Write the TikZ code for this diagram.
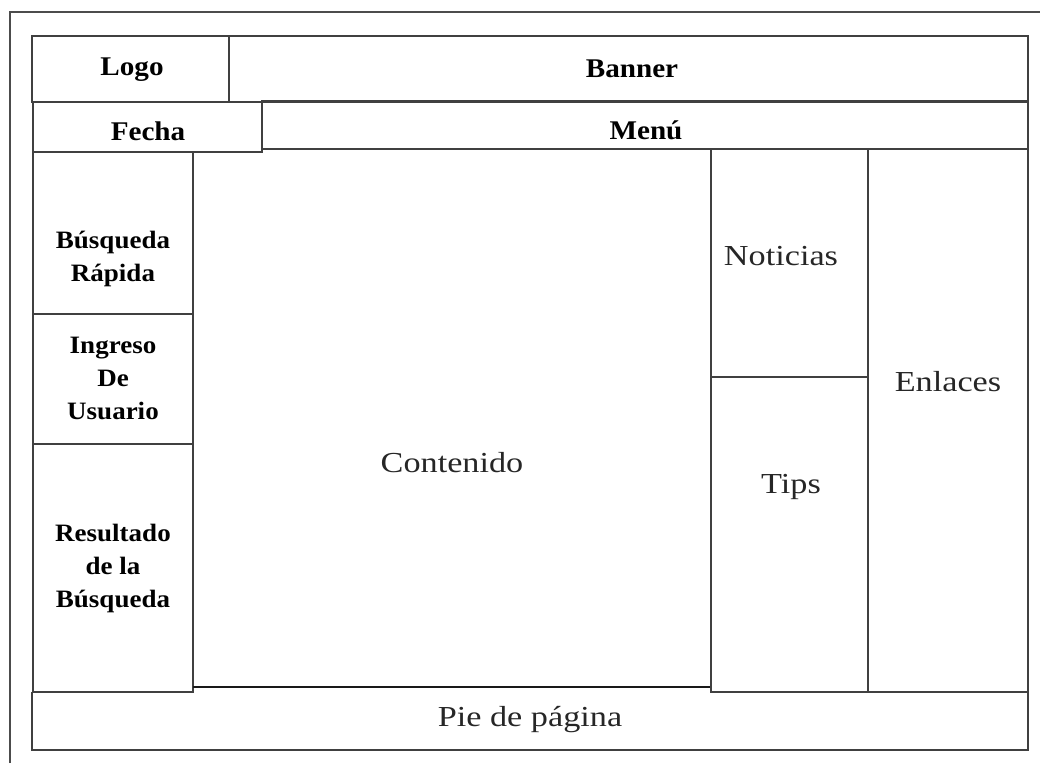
\documentclass[tikz,border=0pt]{standalone}
\usepackage{fontspec}
\setmainfont{Liberation Serif}
\newfontfamily\hdfont[FakeStretch=1.08]{Liberation Serif}
\newfontfamily\rgfont[FakeStretch=1.18]{Liberation Serif}
\begin{document}
\begin{tikzpicture}[x=1pt,y=-1pt,
  frame/.style={draw=black!70, line width=1.2pt},
  box/.style={draw=black!75, line width=1.3pt},
  thick line/.style={draw=black!90, line width=2.6pt},
  hd/.style={inner sep=0pt, align=center, font=\hdfont\bfseries\fontsize{27}{33}\selectfont},
  sd/.style={inner sep=0pt, align=center, font=\hdfont\bfseries\fontsize{25}{33}\selectfont},
  rg/.style={inner sep=0pt, align=center, text=black!85, font=\rgfont\fontsize{29}{34}\selectfont}]
\useasboundingbox (0,0) rectangle (1040,763);
% outer frame
\draw[frame] (10,763) -- (10,12) -- (1040,12);
% header
\draw[box] (32,36) rectangle (229,102);
\draw[box] (229,36) rectangle (1028,102);
\draw[box] (33,102) rectangle (262,152);
\draw[box] (262,101) rectangle (1028,149);
% left column
\draw[box] (33,152) rectangle (193,314);
\draw[box] (33,314) rectangle (193,444);
\draw[box] (33,444) rectangle (193,692);
% content
\draw[box] (193,152) -- (193,692);
\draw[thick line] (193,687) -- (711,687);
% right columns
\draw[box] (711,149) rectangle (868,377);
\draw[box] (711,377) -- (711,692) -- (868,692) -- (868,377);
\draw[box] (868,149) rectangle (1028,692);
% footer
\draw[box] (32,692) -- (32,750) -- (1028,750) -- (1028,692);
\draw[box] (32,692) -- (193,692);
\draw[box] (711,692) -- (1028,692);
% texts
\node[hd] (logo) at (132,70) {Logo};
\node[hd] (banner) at (632,69) {Banner};
\node[hd] (fecha) at (148,131) {Fecha};
\node[hd] (menu) at (646,130) {Menú};
\node[sd] (busq) at (113,259) {Búsqueda\\Rápida};
\node[sd] (ingreso) at (113,378) {Ingreso\\De\\Usuario};
\node[sd] (result) at (113,568) {Resultado\\de la\\Búsqueda};
\node[rg] (cont) at (452,463) {Contenido};
\node[rg] (noti) at (781,256) {Noticias};
\node[rg] (tips) at (791,487) {Tips};
\node[rg] (enl) at (948,382) {Enlaces};
\node[rg] (pie) at (530,720) {Pie de página};
\end{tikzpicture}
\end{document}
